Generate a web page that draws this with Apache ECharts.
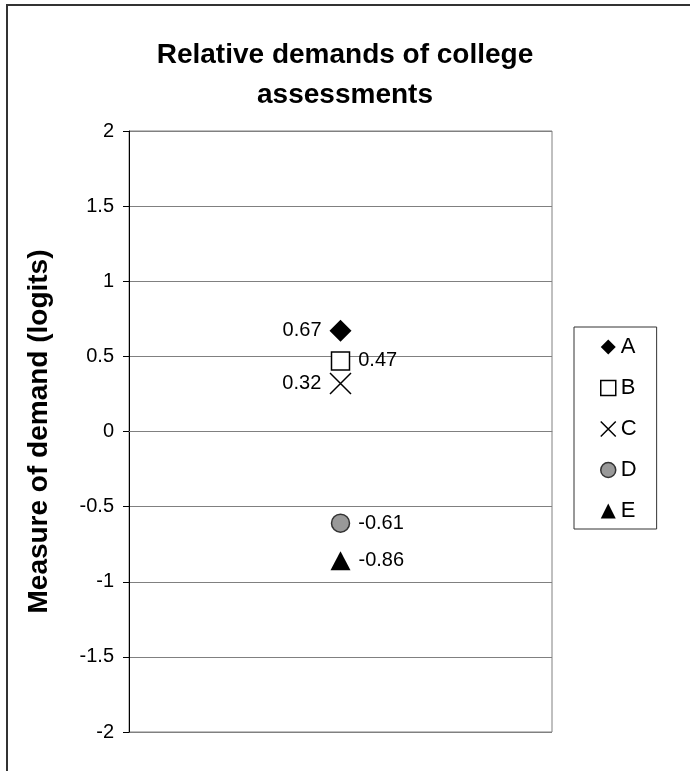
<!DOCTYPE html>
<html>
<head>
<meta charset="utf-8">
<script src="https://cdn.jsdelivr.net/npm/echarts@6/dist/echarts.min.js"></script>
<style>html,body{margin:0;padding:0;background:#fff;}#c{width:690px;height:771px;}</style>
</head>
<body>
<div id="c"></div>
<script>
const categories = ['assessment'];
const seriesNames = ['A', 'B', 'C', 'D', 'E'];
const seriesValues = [0.67, 0.47, 0.32, -0.61, -0.86];
const labelSides = ['left', 'right', 'left', 'right', 'right'];
const yTicks = [-2, -1.5, -1, -0.5, 0, 0.5, 1, 1.5, 2];

const FONT = "'Liberation Sans', Arial, sans-serif";
const symbols = [
  {symbol: 'diamond', size: [22, 22], style: {color: '#000', opacity: 1}},
  {symbol: 'rect', size: [18, 18], style: {color: '#fff', borderColor: '#000', borderWidth: 1.5, opacity: 1}},
  {symbol: 'path://M0,0L10,10M10,0L0,10', size: [21, 21], style: {color: 'rgba(0,0,0,0)', borderColor: '#000', borderWidth: 1.5, opacity: 1}},
  {symbol: 'circle', size: [18, 18], style: {color: '#999', borderColor: '#333', borderWidth: 1.5, opacity: 1}},
  {symbol: 'triangle', size: [20, 19], style: {color: '#000', opacity: 1}}
];

const chart = echarts.init(document.getElementById('c'));
const series = seriesNames.map((n, i) => ({
  name: n,
  type: 'scatter',
  symbol: symbols[i].symbol,
  symbolSize: symbols[i].size,
  itemStyle: symbols[i].style,
  data: [[categories[0], seriesValues[i]]],
  label: {
    show: true,
    position: labelSides[i],
    distance: 8,
    formatter: (p) => p.value[1].toFixed(2),
    color: '#000',
    opacity: 1,
    fontSize: 20,
    fontFamily: FONT
  },
  emphasis: {disabled: true}
}));

chart.setOption({
  animation: false,
  backgroundColor: '#fff',
  title: {
    text: 'Relative demands of college\nassessments',
    left: 'center',
    top: 30,
    textStyle: {fontSize: 28, fontWeight: 'bold', color: '#000', fontFamily: FONT, lineHeight: 40}
  },
  grid: {
    left: 129, right: 138, top: 131, bottom: 39,
    show: true, borderColor: '#808080', borderWidth: 1, backgroundColor: '#fff'
  },
  legend: {
    orient: 'vertical',
    left: 574,
    top: 327,
    padding: [9, 20, 7, 26],
    itemGap: 19,
    itemWidth: 15,
    itemHeight: 15,
    borderColor: '#333',
    borderWidth: 1,
    textStyle: {fontSize: 22, color: '#000', fontFamily: FONT},
    data: seriesNames.map((n, i) => ({name: n, itemStyle: symbols[i].style}))
  },
  xAxis: {
    type: 'category',
    data: categories,
    boundaryGap: true,
    axisLine: {show: true, lineStyle: {color: '#808080'}},
    axisTick: {show: false},
    axisLabel: {show: false},
    splitLine: {show: false}
  },
  yAxis: {
    type: 'value',
    min: yTicks[0],
    max: yTicks[yTicks.length - 1],
    interval: 0.5,
    name: 'Measure of demand (logits)',
    nameLocation: 'middle',
    nameGap: 76,
    nameTextStyle: {fontSize: 28, fontWeight: 'bold', color: '#000', fontFamily: FONT},
    axisLine: {show: true, lineStyle: {color: '#000', width: 1}},
    axisTick: {show: true, inside: false, length: 6, lineStyle: {color: '#000'}},
    axisLabel: {fontSize: 20, color: '#000', fontFamily: FONT, margin: 15},
    splitLine: {show: true, lineStyle: {color: '#808080', width: 1}}
  },
  graphic: [{
    type: 'rect',
    shape: {x: 7, y: 5, width: 800, height: 900},
    style: {fill: 'none', stroke: '#333', lineWidth: 2},
    silent: true
  }],
  series: series
});
</script>
</body>
</html>
